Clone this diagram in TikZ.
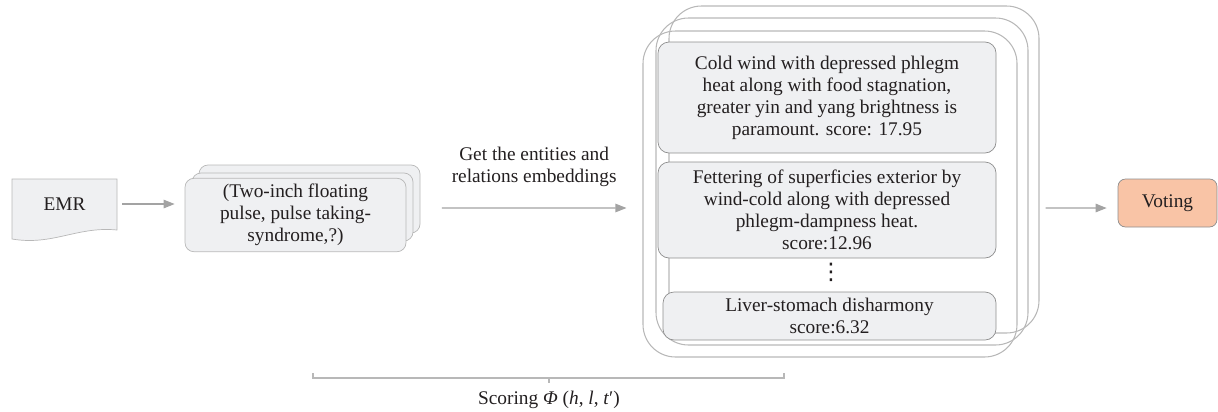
\documentclass[tikz,border=0pt]{standalone}
\usepackage{amsmath}
\usepackage{fontspec}
\setmainfont{Liberation Serif}
\newfontfamily\dotsfont{DejaVu Sans}
\usepackage{tikz}
\usetikzlibrary{arrows.meta, calc}
\definecolor{boxfill}{HTML}{EFF0F2}
\definecolor{boxline}{HTML}{8E8E8E}
\definecolor{outline}{HTML}{B8B8B8}
\definecolor{flowgray}{HTML}{A3A3A3}
\definecolor{votefill}{HTML}{F9C4A6}
\definecolor{ink}{HTML}{231F20}

\begin{document}
\begin{tikzpicture}[
  font=\fontsize{11}{12.5}\selectfont, text=ink,
  flow/.style={draw=flowgray, line width=0.6pt, -{Triangle[length=2.2mm,width=1.7mm]}},
  symbox/.style={draw=outline, fill=boxfill, rounded corners=0.18cm, minimum width=4.42cm, minimum height=1.36cm},
  bigbox/.style={draw=outline, line width=0.6pt, rounded corners=0.65cm, minimum width=7.44cm, minimum height=6.54cm},
  resbox/.style={draw=boxline, fill=boxfill, rounded corners=0.22cm, minimum width=6.76cm, align=center},
  brace/.style={draw=outline, line width=0.6pt}]
\useasboundingbox (0,0) rectangle (24.36,-8.22);

% EMR document
\draw[draw=outline, fill=boxfill] (0.24,-3.58) -- (2.34,-3.58) -- (2.34,-4.60)
  .. controls (1.55,-4.52) and (1.05,-4.92) .. (0.24,-4.78) -- cycle;
\node[minimum width=2.1cm, minimum height=1cm] (emr) at (1.29,-4.08) {EMR};

% symptom triples
\node[symbox] (symb) at (6.19,-3.98) {};
\node[symbox] (symm) at (6.05,-4.14) {};
\node[symbox, align=center] (symf) at (5.91,-4.30) {(Two-inch floating\\pulse, pulse taking-\\syndrome,?)};
\draw[flow] ([xshift=1mm]emr.east) -- ([xshift=-2mm]emr.east -| symf.west);

% candidate syndromes
\node[bigbox, minimum width=7.40cm] (bigb) at (17.08,-3.39) {};
\node[bigbox] (bigm) at (16.84,-3.63) {};
\node[bigbox, minimum width=7.48cm, minimum height=6.52cm] (bigf) at (16.60,-3.88) {};
\node[resbox, minimum height=2.22cm] (res1) at (16.54,-1.95) {Cold wind with depressed phlegm\\heat along with food stagnation,\\greater yin and yang brightness is\\paramount. score: 17.95};
\node[resbox, minimum height=1.92cm] (res2) at (16.54,-4.20) {Fettering of superficies exterior by\\wind-cold along with depressed\\phlegm-dampness heat.\\score:12.96};
\node[font=\dotsfont\fontsize{13}{14}\selectfont] (dots) at (16.62,-5.44) {⋮};
\node[resbox, minimum width=6.66cm, minimum height=0.96cm] (res3) at (16.59,-6.32) {Liver-stomach disharmony\\score:6.32};

\draw[flow] ([xshift=7.1mm,yshift=1.4mm]symf.east) -- ([xshift=-3.2mm,yshift=-2.8mm]bigf.west)
  node[midway, above=0.3cm, align=center] (embed) {Get the entities and\\relations embeddings};

% voting
\node[draw=boxline, fill=votefill, rounded corners=0.15cm, minimum width=1.98cm, minimum height=0.96cm] (vote) at (23.35,-4.06) {Voting};
\draw[flow] ([xshift=5.6mm,yshift=-2.8mm]bigf.east) -- ([xshift=-2.2mm,yshift=-1mm]vote.west);

% scoring bracket
\coordinate (bl) at (6.26,-7.56);
\coordinate (br) at (15.68,-7.56);
\draw[brace] (bl) ++(0,0.1) -- (bl) -- (br) -- ++(0,0.1);
\node (scoring) at (10.98,-8.0) {Scoring \textit{Φ} (\textit{h}, \textit{l}, \textit{t}′)};
\draw[brace] (scoring.north |- bl) -- ++(0,-0.1);
\end{tikzpicture}
\end{document}
